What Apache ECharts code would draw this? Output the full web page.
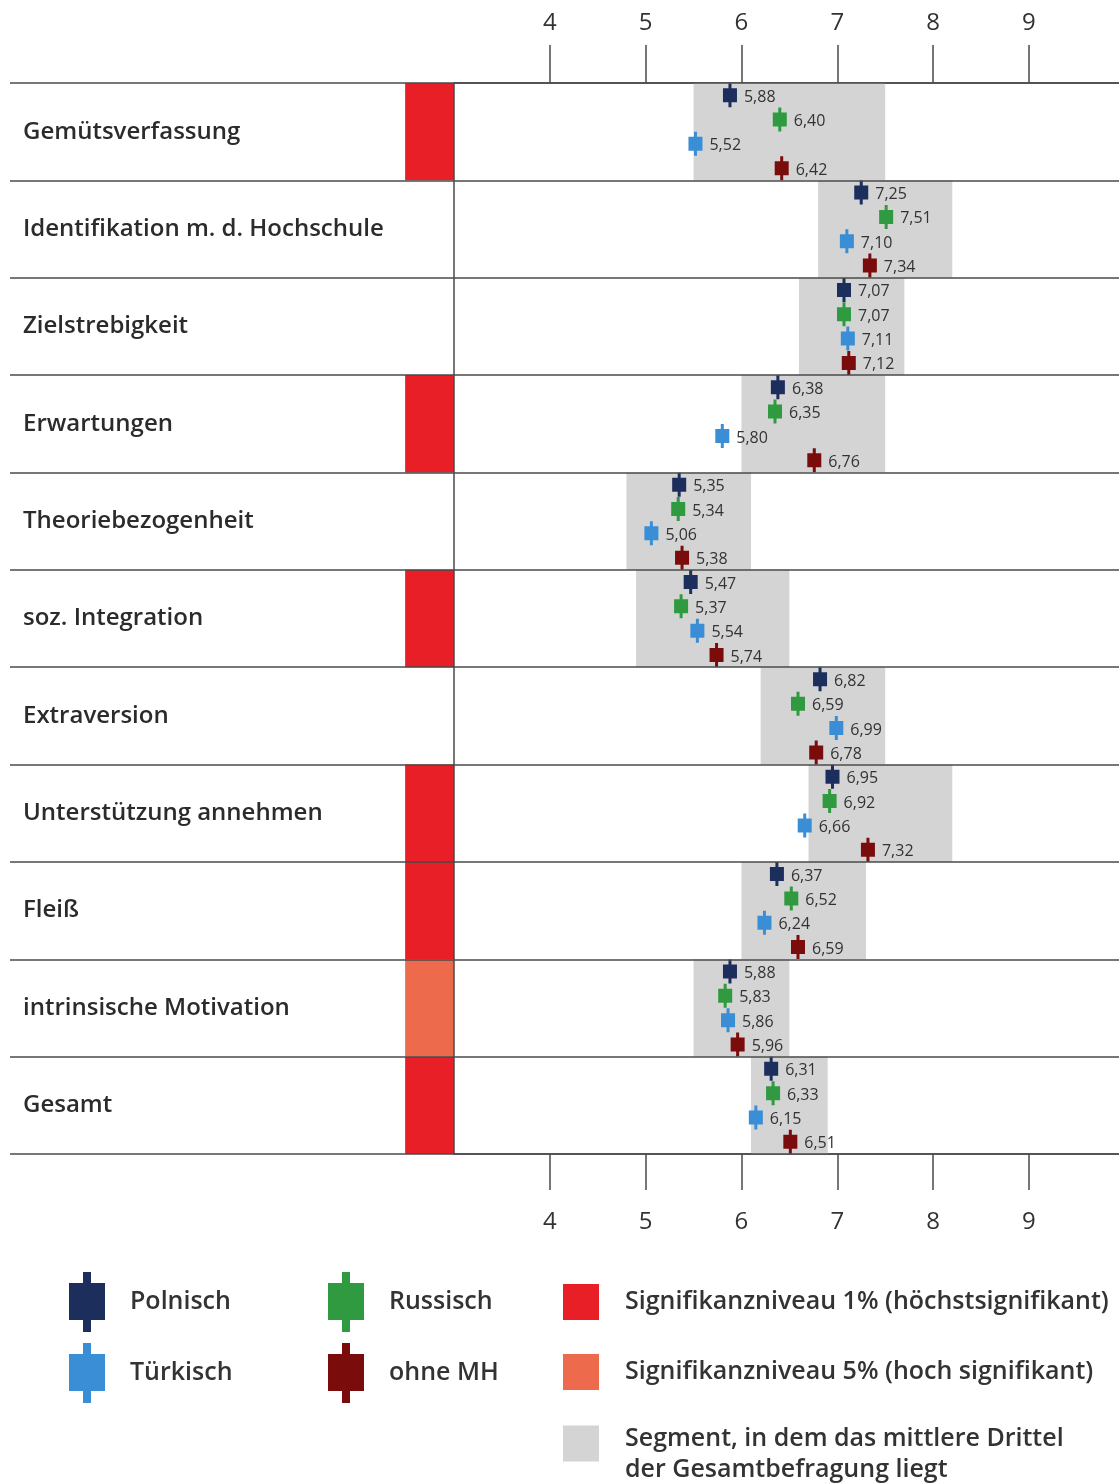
<!DOCTYPE html>
<html>
<head>
<meta charset="utf-8">
<script src="https://cdn.jsdelivr.net/npm/echarts@6/dist/echarts.min.js"></script>
<style>
  html, body { margin: 0; padding: 0; background: #fff; }
  #chart { width: 1119px; height: 1484px; }
</style>
</head>
<body>
<div id="chart"></div>
<script>
// ---------- data ----------
const categories = [
  'Gemütsverfassung',
  'Identifikation m. d. Hochschule',
  'Zielstrebigkeit',
  'Erwartungen',
  'Theoriebezogenheit',
  'soz. Integration',
  'Extraversion',
  'Unterstützung annehmen',
  'Fleiß',
  'intrinsische Motivation',
  'Gesamt'
];
const polnisch  = [5.88, 7.25, 7.07, 6.38, 5.35, 5.47, 6.82, 6.95, 6.37, 5.88, 6.31];
const russisch  = [6.40, 7.51, 7.07, 6.35, 5.34, 5.37, 6.59, 6.92, 6.52, 5.83, 6.33];
const tuerkisch = [5.52, 7.10, 7.11, 5.80, 5.06, 5.54, 6.99, 6.66, 6.24, 5.86, 6.15];
const ohneMH    = [6.42, 7.34, 7.12, 6.76, 5.38, 5.74, 6.78, 7.32, 6.59, 5.96, 6.51];
// middle third of the overall survey (segment low / high)
const segLow  = [5.5, 6.8, 6.6, 6.0, 4.8, 4.9, 6.2, 6.7, 6.0, 5.5, 6.1];
const segHigh = [7.5, 8.2, 7.7, 7.5, 6.1, 6.5, 7.5, 8.2, 7.3, 6.5, 6.9];
// significance level per row
const significance = ['1%', '', '', '1%', '', '1%', '', '1%', '1%', '5%', '1%'];
const tickLabels  = [4, 5, 6, 7, 8, 9];

const groupNames  = ['Polnisch', 'Russisch', 'Türkisch', 'ohne MH'];
const groupValues = [polnisch, russisch, tuerkisch, ohneMH];
const groupColors = ['#1c2e5c', '#2f9a3f', '#3a8ed6', '#7b0c0c'];

const SIG1_NAME = 'Signifikanzniveau 1% (höchstsignifikant)';
const SIG5_NAME = 'Signifikanzniveau 5% (hoch signifikant)';
const SEG_NAME  = 'Segment, in dem das mittlere Drittel\nder Gesamtbefragung liegt';

// ---------- layout / style constants ----------
const FONT = '"Open Sans", Lato, sans-serif';
const X_MIN = 3, X_MAX = 9.94;
const SIG_COL_WIDTH = 0.51; // width of significance column, in axis units, left of the axis
const MARKER = 'path://M5.5,0H8.5V5H14V19H8.5V24H5.5V19H0V5H5.5Z';
const LEGEND_MARKER = 'path://M14,0H22V11H36V48H22V60H14V48H0V11H14Z';
const SQUARE = 'path://M0,0H10V10H0Z';
const LINE_COLOR = '#4a4a4a';

const chart = echarts.init(document.getElementById('chart'), null, { renderer: 'canvas' });

const tickLabelFormatter = v => tickLabels.indexOf(v) >= 0 ? String(v) : '';

const scatterSeries = groupNames.map((name, gi) => ({
  name,
  type: 'scatter',
  xAxisIndex: 0,
  yAxisIndex: 0,
  symbol: MARKER,
  symbolSize: [14, 24],
  itemStyle: { color: groupColors[gi], opacity: 1 },
  z: 5,
  label: {
    show: true,
    position: 'right',
    distance: 7,
    offset: [0, 2],
    fontFamily: FONT,
    fontSize: 16,
    color: '#333',
    formatter: p => p.value[0].toFixed(2).replace('.', ',')
  },
  data: groupValues[gi].map((v, r) => [v, r + (gi + 0.5) / 4])
}));

function sigRender(params, api) {
  const row = api.value(0);
  const p0 = api.coord([X_MIN - SIG_COL_WIDTH, row]);
  const p1 = api.coord([X_MIN, row + 1]);
  return {
    type: 'rect',
    shape: { x: p0[0], y: p0[1], width: p1[0] - p0[0], height: p1[1] - p0[1] },
    style: { fill: api.visual('color') }
  };
}

const legendText = { fontFamily: FONT, fontSize: 25, fontWeight: 600, color: '#333' };

const option = {
  animation: false,
  backgroundColor: '#fff',
  textStyle: { fontFamily: FONT },
  grid: [
    { left: 454, right: 0, top: 83, bottom: 330 },
    { left: 10, right: 0, top: 83, bottom: 330 }
  ],
  xAxis: [
    {
      gridIndex: 0, type: 'value', position: 'bottom', min: X_MIN, max: X_MAX, interval: 1,
      axisLine: { show: true, onZero: false, lineStyle: { color: LINE_COLOR, width: 1.5 } },
      axisTick: { show: true, length: 36, inside: false,
        lineStyle: { color: LINE_COLOR, width: 1.5 } },
      axisLabel: { show: true, formatter: tickLabelFormatter, margin: 56,
        showMinLabel: false, showMaxLabel: false,
        fontFamily: FONT, fontSize: 24, color: '#333' },
      splitLine: { show: false }
    },
    {
      gridIndex: 0, type: 'value', position: 'top', min: X_MIN, max: X_MAX, interval: 1,
      axisLine: { show: true, onZero: false, lineStyle: { color: LINE_COLOR, width: 1.5 } },
      axisTick: { show: true, length: 38, inside: false,
        lineStyle: { color: LINE_COLOR, width: 1.5 } },
      axisLabel: { show: true, formatter: tickLabelFormatter, margin: 48,
        showMinLabel: false, showMaxLabel: false,
        fontFamily: FONT, fontSize: 24, color: '#333' },
      splitLine: { show: false }
    },
    { gridIndex: 1, type: 'value', show: false, min: 0, max: 1 }
  ],
  yAxis: [
    {
      gridIndex: 0, type: 'value', min: 0, max: categories.length, inverse: true,
      axisLine: { show: true, onZero: false, lineStyle: { color: LINE_COLOR, width: 1.5 } },
      axisTick: { show: false }, axisLabel: { show: false }, splitLine: { show: false },
      z: 6
    },
    {
      gridIndex: 1, type: 'category', data: categories, inverse: true,
      axisLine: { show: false }, axisTick: { show: false },
      axisLabel: { show: true, inside: true, margin: 13, align: 'left', padding: [6, 0, 0, 0],
        fontFamily: FONT, fontSize: 24, fontWeight: 600, color: '#2b2b2b' },
      splitLine: { show: true, lineStyle: { color: LINE_COLOR, width: 1.5 } },
      z: 10
    }
  ],
  legend: [
    {
      orient: 'vertical', left: 69, top: 1272, padding: 0, height: 200,
      itemWidth: 76, itemHeight: 60, itemGap: 11, symbolKeepAspect: true,
      textStyle: legendText,
      data: [{ name: 'Polnisch', icon: LEGEND_MARKER }, { name: 'Türkisch', icon: LEGEND_MARKER }]
    },
    {
      orient: 'vertical', left: 328, top: 1272, padding: 0, height: 200,
      itemWidth: 76, itemHeight: 60, itemGap: 11, symbolKeepAspect: true,
      textStyle: legendText,
      data: [{ name: 'Russisch', icon: LEGEND_MARKER }, { name: 'ohne MH', icon: LEGEND_MARKER }]
    },
    {
      orient: 'vertical', left: 563, top: 1284, padding: 0, height: 200,
      itemWidth: 78, itemHeight: 36, itemGap: 34, symbolKeepAspect: true,
      textStyle: legendText,
      data: [{ name: SIG1_NAME, icon: SQUARE }, { name: SIG5_NAME, icon: SQUARE }]
    },
    {
      orient: 'vertical', left: 563, top: 1412, padding: 0, height: 120,
      itemWidth: 78, itemHeight: 36, symbolKeepAspect: true,
      formatter: name => '{s| }\n' + name.split('\n').map(l => '{t|' + l + '}').join('\n'),
      textStyle: Object.assign({
        rich: {
          s: { fontSize: 1, lineHeight: 21 },
          t: Object.assign({ lineHeight: 31 }, legendText)
        }
      }, legendText),
      data: [{ name: SEG_NAME, icon: SQUARE }]
    }
  ],
  series: [
    {
      name: SEG_NAME,
      type: 'custom',
      xAxisIndex: 0, yAxisIndex: 0,
      itemStyle: { color: '#d4d4d4', opacity: 1 },
      z: 1,
      encode: { x: [0, 1], y: 2 },
      renderItem: (params, api) => {
        const row = api.value(2);
        const p0 = api.coord([api.value(0), row]);
        const p1 = api.coord([api.value(1), row + 1]);
        return {
          type: 'rect',
          shape: { x: p0[0], y: p0[1], width: p1[0] - p0[0], height: p1[1] - p0[1] },
          style: { fill: api.visual('color') }
        };
      },
      data: categories.map((c, r) => [segLow[r], segHigh[r], r])
    },
    {
      name: SIG1_NAME,
      type: 'custom',
      xAxisIndex: 0, yAxisIndex: 0,
      clip: false,
      itemStyle: { color: '#e81f27', opacity: 1 },
      z: 1,
      encode: { y: 0 },
      renderItem: sigRender,
      data: significance.map((s, r) => s === '1%' ? [r] : null).filter(d => d)
    },
    {
      name: SIG5_NAME,
      type: 'custom',
      xAxisIndex: 0, yAxisIndex: 0,
      clip: false,
      itemStyle: { color: '#ee6a4c', opacity: 1 },
      z: 1,
      encode: { y: 0 },
      renderItem: sigRender,
      data: significance.map((s, r) => s === '5%' ? [r] : null).filter(d => d)
    },
    ...scatterSeries
  ]
};

chart.setOption(option);
</script>
</body>
</html>
